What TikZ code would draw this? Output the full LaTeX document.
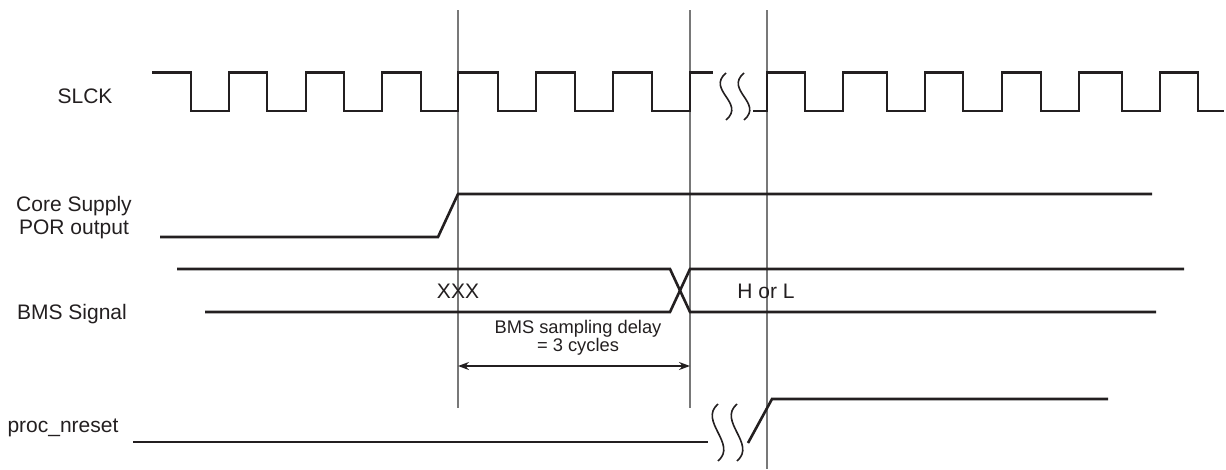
\documentclass[tikz,border=0pt]{standalone}
\usepackage{fontspec}
\setmainfont{Liberation Sans}
\usetikzlibrary{arrows.meta}
\definecolor{WaveInk}{RGB}{35,31,32}
\definecolor{WaveGuide}{RGB}{120,120,120}

\begin{document}
\begin{tikzpicture}[
    x=1pt,y=-1pt,
    sig/.style={draw=WaveInk,line width=2.6pt,line join=miter},
    guide/.style={draw=WaveGuide,line width=1.3pt},
    brk/.style={draw=WaveInk,line width=1.6pt},
    dim/.style={draw=WaveInk,line width=1.4pt,{Stealth[length=11pt,width=8pt]}-{Stealth[length=11pt,width=8pt]}},
    lbl/.style={font=\fontsize{21}{23}\selectfont,inner sep=0pt,text=WaveInk},
    note/.style={font=\fontsize{18.3}{18}\selectfont,inner sep=0pt,text=WaveInk,align=center}
  ]
    \useasboundingbox (0,0) rectangle (1226,469);

    % time markers
    \coordinate (m1top) at (458,10);  \coordinate (m1bot) at (458,408);
    \coordinate (m2top) at (690,10);  \coordinate (m2bot) at (690,408);
    \coordinate (m3top) at (767,10);  \coordinate (m3bot) at (767,469);
    \draw[guide] (m1top) -- (m1bot);
    \draw[guide] (m2top) -- (m2bot);
    \draw[guide] (m3top) -- (m3bot);

    % signal names
    \node[lbl,anchor=base] (slck) at (85,103) {SLCK};
    \node[lbl,align=center] (por) at (74,218) {Core Supply\\POR output};
    \node[lbl,anchor=base] (bms) at (72,319) {BMS Signal};
    \node[lbl,anchor=base] (nrst) at (63,432) {proc\_nreset};

    % SLCK
    \draw[sig] (152,72.5) \foreach \f/\r in {191/229,267/306,344/382,421/458,498/536,575/613,652/690} { -| (\f,111) -| (\r,72.5) } -- (713,72.5);
    \draw[sig] (753,111) -| (767,72.5) \foreach \f/\r in {805/843,887/925,963/1002,1041/1079,1122/1160} { -| (\f,111) -| (\r,72.5) } -| (1198,111) -- (1224,111);

    % Core Supply POR output
    \draw[sig] (160,237) -- (438,237) -- (458,194) -- (1152,194);

    % BMS Signal
    \draw[sig] (177,269) -- (670,269) -- (690,312) -- (1156,312);
    \draw[sig] (205,312) -- (670,312) -- (690,269) -- (1184,269);
    \node[lbl,anchor=base] (xxx) at (458,298) {XXX};
    \node[lbl,anchor=base] (horl) at (766,298) {H or L};

    % sampling delay
    \node[note] (delay) at (578,337.5) {BMS sampling delay\\= 3 cycles};
    \coordinate (d1) at (458,366);
    \coordinate (d2) at (690,366);
    \draw[dim] (d1) -- (d2);

    % proc_nreset
    \draw[sig] (133,442) -- (708,442);
    \draw[sig] (748,443) -- (772,399) -- (1108,399);

    % breaks
    \foreach \x/\ya/\yb in {726/73/120,744/73/120,718/404/461,737/404/461}
      \draw[brk] (\x,\ya) .. controls (\x-20,\ya+17) and (\x+20,\yb-17) .. (\x,\yb);
  \end{tikzpicture}
\end{document}
